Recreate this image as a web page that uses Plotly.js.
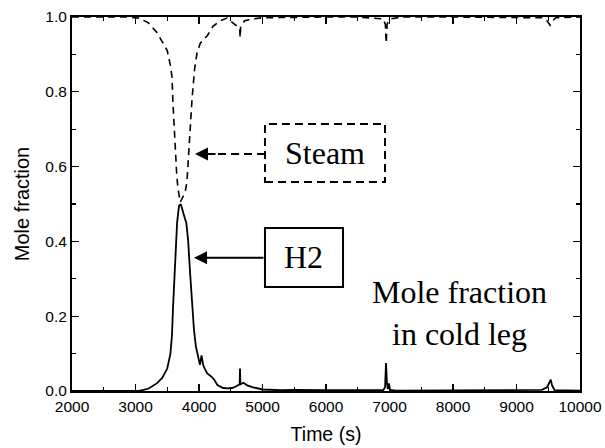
<!DOCTYPE html>
<html>
<head>
<meta charset="utf-8">
<script src="https://cdn.plot.ly/plotly-3.0.1.min.js"></script>
<style>html,body{margin:0;padding:0;background:#fff;}#chart{width:605px;height:448px;}</style>
</head>
<body>
<div id="chart"></div>
<script>
// Steam mole fraction (dashed)
const steamTime = [2000, 2900, 3050, 3200, 3340, 3420, 3500, 3550, 3575, 3590, 3610, 3630, 3650, 3670, 3690, 3705, 3720, 3750, 3780, 3810, 3830, 3860, 3890, 3930, 3970, 4020, 4080, 4130, 4220, 4330, 4440, 4530, 4600, 4640, 4648, 4656, 4720, 4850, 5000, 5500, 6000, 6500, 6900, 6935, 6948, 6962, 6985, 7020, 7200, 8000, 9000, 9400, 9480, 9530, 9570, 9620, 10000];
const steamFrac = [1.0, 1.0, 0.997, 0.985, 0.958, 0.935, 0.91, 0.87, 0.84, 0.77, 0.69, 0.63, 0.575, 0.54, 0.515, 0.505, 0.51, 0.52, 0.53, 0.56, 0.62, 0.7, 0.78, 0.86, 0.905, 0.93, 0.94, 0.95, 0.975, 0.99, 0.997, 0.985, 0.975, 0.97, 0.945, 0.975, 0.99, 0.995, 0.998, 1.0, 1.0, 1.0, 0.995, 0.98, 0.93, 0.98, 0.99, 0.995, 1.0, 1.0, 1.0, 0.998, 0.99, 0.978, 0.99, 0.998, 1.0];

// H2 mole fraction (solid)
const h2Time = [2000, 3000, 3070, 3200, 3340, 3420, 3500, 3550, 3575, 3590, 3610, 3630, 3655, 3685, 3710, 3730, 3750, 3780, 3800, 3815, 3830, 3860, 3890, 3920, 3950, 3985, 4015, 4040, 4050, 4065, 4090, 4130, 4200, 4240, 4290, 4380, 4450, 4520, 4580, 4630, 4640, 4646, 4652, 4700, 4760, 4850, 5000, 5300, 5500, 6000, 6500, 6900, 6930, 6945, 6960, 6975, 6990, 7010, 7100, 8000, 9000, 9400, 9480, 9520, 9540, 9560, 9600, 10000];
const h2Frac = [0, 0, 0.001, 0.006, 0.021, 0.035, 0.06, 0.1, 0.15, 0.22, 0.3, 0.38, 0.45, 0.495, 0.5, 0.49, 0.475, 0.46, 0.45, 0.43, 0.4, 0.315, 0.225, 0.165, 0.12, 0.09, 0.07, 0.095, 0.085, 0.07, 0.06, 0.047, 0.038, 0.03, 0.016, 0.008, 0.007, 0.008, 0.012, 0.016, 0.018, 0.06, 0.018, 0.022, 0.015, 0.01, 0.004, 0.002, 0.003, 0.002, 0.001, 0.002, 0.01, 0.075, 0.02, 0.005, 0.02, 0.003, 0.001, 0.001, 0.001, 0.003, 0.01, 0.025, 0.03, 0.015, 0.002, 0.001];

const xTickVals = [2000, 3000, 4000, 5000, 6000, 7000, 8000, 9000, 10000];
const yTickVals = [0.0, 0.2, 0.4, 0.6, 0.8, 1.0];

const serif = 'Liberation Serif, Times New Roman, serif';
const sans = 'Liberation Sans, Arial, sans-serif';

const traces = [
  {x: steamTime, y: steamFrac, type: 'scatter', mode: 'lines', name: 'Steam',
   line: {color: '#000', width: 1.6, dash: '7px,5px'}},
  {x: h2Time, y: h2Frac, type: 'scatter', mode: 'lines', name: 'H2',
   line: {color: '#000', width: 1.8}}
];

const axisCommon = {
  showgrid: false, zeroline: false, showline: true, linecolor: '#000', linewidth: 2,
  mirror: 'allticks', ticks: 'inside', ticklen: 7, tickwidth: 1.2, tickcolor: '#000',
  tickfont: {family: sans, size: 15.5, color: '#000'}
};

const layout = {
  width: 605, height: 448,
  margin: {l: 72, r: 25, t: 17, b: 57},
  paper_bgcolor: '#fff', plot_bgcolor: '#fff',
  showlegend: false,
  xaxis: Object.assign({}, axisCommon, {
    range: [2000, 10000], tickvals: xTickVals, ticktext: xTickVals.map(String),
    minor: {dtick: 500, tick0: 2000, ticks: 'inside', ticklen: 4, tickwidth: 1.2, tickcolor: '#000', showgrid: false},
    title: {text: 'Time (s)', font: {family: sans, size: 19.5, color: '#000'}, standoff: 14}
  }),
  yaxis: Object.assign({}, axisCommon, {
    range: [0, 1.0], tickvals: yTickVals, ticktext: yTickVals.map(v => v.toFixed(1)),
    minor: {dtick: 0.1, tick0: 0, ticks: 'inside', ticklen: 4, tickwidth: 1.2, tickcolor: '#000', showgrid: false},
    title: {text: 'Mole fraction', font: {family: sans, size: 20, color: '#000'}, standoff: 10}
  }),
  shapes: [
    {type: 'rect', xref: 'x', yref: 'y', x0: 5039, x1: 6929, y0: 0.559, y1: 0.714,
     line: {color: '#000', width: 2, dash: '8px,5px'}},
    {type: 'line', xref: 'x', yref: 'y', x0: 4300, x1: 5039, y0: 0.634, y1: 0.634,
     line: {color: '#000', width: 2, dash: '8px,5px'}},
    {type: 'rect', xref: 'x', yref: 'y', x0: 5039, x1: 6268, y0: 0.278, y1: 0.436,
     line: {color: '#000', width: 2}}
  ],
  annotations: [
    {x: 3937, y: 0.634, xref: 'x', yref: 'y', text: '', showarrow: true,
     ax: 22, ay: 0, arrowhead: 2, arrowsize: 1.3, arrowwidth: 2, arrowcolor: '#000'},
    {x: 3921, y: 0.356, xref: 'x', yref: 'y', text: '', showarrow: true,
     ax: 71, ay: 0, arrowhead: 2, arrowsize: 1.3, arrowwidth: 2, arrowcolor: '#000'},
    {x: 5984, y: 0.636, xref: 'x', yref: 'y', text: 'Steam', showarrow: false,
     font: {family: serif, size: 32, color: '#000'}},
    {x: 5653, y: 0.357, xref: 'x', yref: 'y', text: 'H2', showarrow: false,
     font: {family: serif, size: 32, color: '#000'}},
    {x: 8110, y: 0.209, xref: 'x', yref: 'y', text: 'Mole fraction<br>in cold leg', showarrow: false,
     font: {family: serif, size: 32, color: '#000'}, align: 'center'}
  ]
};

Plotly.newPlot('chart', traces, layout, {staticPlot: true, displayModeBar: false});
</script>
</body>
</html>
